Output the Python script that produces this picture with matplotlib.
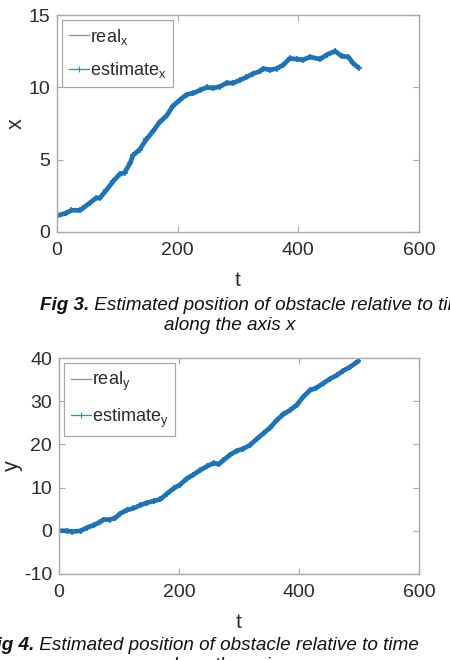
import matplotlib
matplotlib.use("Agg")
import matplotlib.pyplot as plt
from matplotlib.lines import Line2D

plt.rcParams['font.family'] = ['Liberation Sans', 'DejaVu Sans']
plt.rcParams['mathtext.fontset'] = 'custom'
plt.rcParams['mathtext.rm'] = 'Liberation Sans'
plt.rcParams['mathtext.it'] = 'Liberation Sans:italic'
plt.rcParams['axes.unicode_minus'] = False

# ---- data ----
t_x = [0, 15, 24, 38, 43, 54, 65, 71, 82, 93, 104, 112, 121, 126, 137, 148, 159,
       170, 181, 192, 204, 215, 226, 237, 248, 259, 270, 281, 292, 303, 314, 325,
       336, 342, 353, 364, 375, 386, 397, 408, 419, 436, 447, 461, 472, 483, 491, 500]
x_real = [1.13, 1.3, 1.5, 1.5, 1.65, 2.0, 2.35, 2.35, 2.9, 3.5, 4.0, 4.1, 4.75, 5.3,
          5.7, 6.4, 6.95, 7.6, 8.0, 8.7, 9.15, 9.5, 9.6, 9.8, 10.0, 9.95, 10.05, 10.3,
          10.3, 10.5, 10.7, 10.95, 11.1, 11.3, 11.2, 11.3, 11.55, 12.0, 11.95, 11.9,
          12.1, 11.95, 12.25, 12.5, 12.15, 12.1, 11.65, 11.35]
x_est = x_real

t_y = [0, 13, 22, 36, 47, 58, 69, 74, 85, 94, 102, 113, 124, 135, 147, 158, 169,
       180, 191, 202, 213, 224, 235, 246, 258, 266, 274, 285, 296, 307, 318, 330,
       341, 352, 363, 374, 385, 396, 407, 418, 429, 441, 452, 463, 474, 485, 499]
y_real = [0.0, 0.0, -0.2, 0.0, 0.75, 1.3, 2.1, 2.6, 2.6, 3.0, 4.0, 4.8, 5.2, 5.9,
          6.5, 6.9, 7.3, 8.6, 9.8, 10.7, 12.1, 13.0, 14.0, 14.9, 15.7, 15.4, 16.3,
          17.6, 18.5, 19.0, 19.8, 21.3, 22.6, 23.9, 25.6, 27.0, 27.9, 29.1, 31.0,
          32.5, 33.1, 34.2, 35.2, 36.0, 37.1, 37.9, 39.3]
y_est = y_real

xticks = [0, 200, 400, 600]
yticks_top = [0, 5, 10, 15]
yticks_bot = [-10, 0, 10, 20, 30, 40]

W, H = 450, 660
fig = plt.figure(figsize=(W / 100, H / 100), dpi=100)

def px_axes(l, t, r, b):
    return fig.add_axes([l / W, 1 - b / H, (r - l) / W, (b - t) / H])

ax1 = px_axes(57, 15, 419, 232)
ax2 = px_axes(59, 358, 419, 574)

BLUE = '#1b74b9'
SPINE = '#a8a8a8'
TXT = '#2b2b2b'

def style(ax, yt, ylim, ylab, ylab_x, sub):
    ax.set_xlim(0, 600)
    ax.set_ylim(*ylim)
    ax.set_xticks(xticks)
    ax.set_yticks(yt)
    for s in ax.spines.values():
        s.set_color(SPINE)
        s.set_linewidth(1.0)
    ax.tick_params(direction='in', length=4, width=0.8, color=SPINE,
                   labelcolor=TXT, labelsize=14, top=True, right=True)
    ax.tick_params(axis='x', pad=7)
    ax.tick_params(axis='y', pad=5)
    ax.set_xlabel('t', fontsize=15, color=TXT)
    ax.set_ylabel(ylab, fontsize=15.5, color=TXT)
    ax.xaxis.set_label_coords(0.5, -0.178)
    ax.yaxis.set_label_coords(ylab_x, 0.5)
    h1 = Line2D([], [], color='#8a8aa8', lw=0.9)
    h2 = Line2D([], [], color='#3a90a0', lw=0.9, marker='+', markersize=4,
                markeredgewidth=0.8)
    leg = ax.legend([h1, h2], [r'real$_{\mathrm{%s}}$' % sub,
                               r'estimate$_{\mathrm{%s}}$' % sub],
                    loc='upper left', fontsize=13, frameon=True, fancybox=False,
                    edgecolor=SPINE, handlelength=1.1, handletextpad=0.1,
                    borderaxespad=0.3, borderpad=0.35, labelspacing=0.75,
                    framealpha=1)
    leg.get_frame().set_linewidth(0.9)
    for tx in leg.get_texts():
        tx.set_color(TXT)

ax1.plot(t_x, x_real, color=BLUE, lw=3.4, solid_joinstyle='round',
         solid_capstyle='round')
ax1.plot(t_x, x_est, color=BLUE, lw=0, marker='+', markersize=5,
         markeredgewidth=1.1)
style(ax1, yticks_top, (0, 15), 'x', -0.083, 'x')

ax2.plot(t_y, y_real, color=BLUE, lw=3.4, solid_joinstyle='round',
         solid_capstyle='round')
ax2.plot(t_y, y_est, color=BLUE, lw=0, marker='+', markersize=5,
         markeredgewidth=1.1)
style(ax2, yticks_bot, (-10, 40), 'y', -0.1, 'y')
ax2.xaxis.set_label_coords(0.5, -0.182)

CAP = 13.6
def caption(xpx, ypx, bold, rest, x2px, line2):
    t1 = fig.text(xpx / W, 1 - ypx / H, bold, fontsize=CAP, fontweight='bold',
                  fontstyle='italic', color='#111111', va='baseline', ha='left')
    ax1.annotate(rest, xy=(1, 0), xycoords=t1, va='bottom', ha='left',
                 fontsize=CAP, fontstyle='italic', color='#111111',
                 annotation_clip=False)
    fig.text(x2px / W, 1 - (ypx + 20) / H, line2, fontsize=CAP,
             fontstyle='italic', color='#111111', va='baseline', ha='left')

caption(40, 310, 'Fig 3.', ' Estimated position of obstacle relative to time',
        164, 'along the axis x')
caption(-15, 650, 'Fig 4.', ' Estimated position of obstacle relative to time',
        163, 'along the axis y')

fig.savefig('out.png', dpi=100)
